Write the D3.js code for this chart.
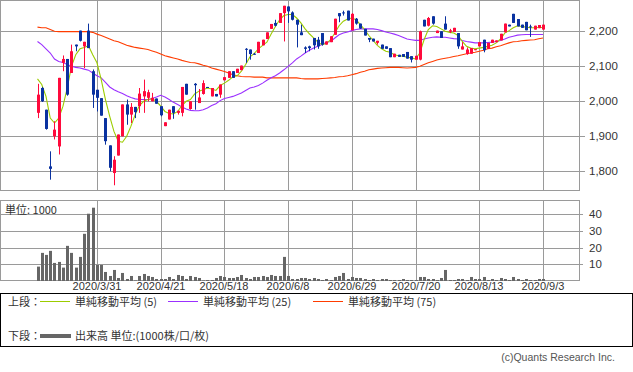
<!DOCTYPE html>
<html>
<head>
<meta charset="utf-8">
<script src="https://cdn.jsdelivr.net/npm/d3@7"></script>
<style>
  body { margin: 0; background: #fff; }
  svg { display: block; }
  text { font-family: "Liberation Sans", Arial, sans-serif; fill: #333; }
  .jp { font-family: "Noto Sans CJK JP", sans-serif; }
</style>
</head>
<body>
<svg width="633" height="372"></svg>
<script>
// daily candles, 2020/3/10 .. 2020/9/3 (index = trading day)
var openP = [1966,2037,1975,1813,1899,1870,2109,2120,2080,2161,2201,2156,2201,2085,2032,2008,1951,1873,1794,1844,
  1899,1990,1961,1983,1985,2013,2009,1999,2007,1985,1928,1947,1985,1966,1966,2049,1977,2049,1994,2020,
  2040,2013,2020,2018,2059,2066,2085,2080,2088,2149,2147,2135,2137,2159,2177,2206,2223,2223,2251,2270,
  2253,2232,2196,2153,2156,2180,2175,2194,2161,2168,2189,2251,2253,2258,2202,2235,2221,2206,2180,2178,
  2166,2161,2156,2151,2125,2132,2134,2140,2128,2118,2118,2232,2215,2242,2194,2199,2221,2198,2197,2194,
  2147,2134,2135,2145,2156,2175,2149,2166,2168,2173,2196,2218,2249,2234,2218,2226,2213,2204,2208,2204];
var highP = [2049,2040,1975,1856,1942,2066,2130,2120,2161,2161,2201,2169,2221,2090,2032,2008,1951,1873,1842,1904,
  1990,2004,1994,1983,2037,2061,2032,2023,2007,1985,1939,1975,1985,1972,2040,2049,1999,2051,2034,2059,
  2040,2037,2020,2047,2068,2085,2085,2092,2101,2151,2147,2137,2169,2175,2196,2220,2232,2251,2272,2270,
  2256,2232,2218,2156,2158,2180,2183,2194,2170,2185,2235,2251,2258,2258,2251,2237,2221,2206,2180,2178,
  2172,2161,2156,2151,2135,2132,2134,2140,2128,2129,2201,2232,2240,2242,2201,2199,2242,2206,2209,2194,
  2168,2153,2151,2148,2168,2175,2166,2175,2173,2192,2221,2218,2249,2234,2218,2226,2218,2215,2217,2218];
var lowP = [1951,1997,1918,1775,1890,1847,2085,2015,2080,2142,2170,2094,2151,1980,1970,1958,1875,1799,1759,1844,
  1899,1932,1937,1951,1966,1966,1999,1999,1992,1956,1928,1947,1949,1961,1956,2018,1975,1975,1994,2018,
  2037,2013,2013,2009,2059,2066,2066,2080,2088,2109,2118,2132,2137,2159,2177,2206,2213,2223,2170,2223,
  2230,2153,2188,2137,2142,2147,2149,2158,2161,2168,2189,2225,2244,2230,2202,2218,2206,2187,2168,2170,
  2161,2149,2149,2125,2125,2126,2126,2121,2110,2118,2116,2213,2213,2218,2194,2180,2204,2194,2197,2149,
  2147,2132,2135,2145,2156,2139,2149,2166,2168,2173,2196,2213,2223,2213,2209,2202,2183,2204,2208,2204];
var closeP = [2018,1999,1920,1806,1918,2066,2120,2018,2142,2156,2172,2169,2151,2018,2009,1958,1885,1809,1832,1904,
  1990,1961,1983,1968,2021,2028,2025,2009,1992,1959,1939,1975,1966,1972,2040,2018,1999,2045,2010,2051,
  2037,2037,2013,2047,2068,2085,2066,2092,2101,2147,2134,2132,2169,2175,2196,2220,2215,2251,2272,2256,
  2232,2218,2188,2149,2151,2159,2156,2161,2170,2185,2235,2242,2251,2230,2249,2221,2207,2187,2175,2170,
  2172,2149,2149,2125,2135,2126,2126,2121,2118,2129,2199,2213,2237,2221,2201,2180,2204,2202,2209,2156,
  2156,2147,2151,2148,2168,2145,2166,2175,2173,2192,2221,2213,2223,2213,2209,2202,2210,2215,2217,2218];

// volume, unit 1000
var volume = [8.6,16.8,15.6,18,10.8,11.4,8,21,16.8,8,14.4,28.2,40.2,43.8,9.6,9.6,5.4,3,6.6,1.8,
  4.8,1.2,3,0.3,3,4.2,3,2.4,1.2,1.2,1.2,2.4,1.2,3.6,3,1.2,3,2.4,1.8,0.3,
  0.6,0.6,1.8,3,2.4,1.8,1.8,2.4,3.6,1.8,1.2,2.4,2.4,3,2.4,3.6,3,3,14.4,3,
  1.2,1.2,1.8,1.8,1.2,1.8,1.2,0.6,1.2,0.6,2.4,3,4.8,1.2,2.4,1.8,1.8,1.2,0.6,1.2,
  0.6,1.2,1.2,0.6,0.6,0.6,1.2,0.6,0.6,0.6,2.4,2.4,1.2,1.2,0.6,1.8,6.6,0.6,0.6,1.2,
  1.2,0.6,2.4,1.2,1.2,2.4,0.6,1.2,0.6,1.8,1.2,0.6,2.4,1.2,0.6,1.2,0.6,0.6,1.2,1.2];

// moving averages as drawn
var ma5 = [2063,2047,2013,1951,1937,1951,1985,2037,2099,2132,2149,2153,2158,2132,2109,2061,2004,1956,1913,1885,
  1882,1899,1928,1961,1987,1999,2004,2006,1999,1985,1970,1964,1963,1970,1987,1999,2004,2020,2028,2032,
  2037,2034,2030,2044,2051,2059,2069,2072,2085,2104,2126,2135,2149,2159,2168,2191,2213,2232,2244,2247,
  2247,2237,2223,2206,2192,2180,2168,2161,2164,2175,2194,2215,2228,2234,2237,2232,2218,2204,2187,2173,
  2159,2149,2142,2139,2132,2129,2128,2125,2123,2120,2137,2175,2204,2215,2213,2206,2199,2196,2194,2187,
  2170,2156,2151,2149,2151,2153,2156,2159,2166,2177,2194,2201,2209,2215,2213,2211,2209,2209,2210,2210];
var ma25 = [2170,2161,2149,2137,2120,2113,2110,2104,2099,2096,2094,2091,2088,2080,2072,2066,2053,2040,2032,2026,
  2021,2015,2010,2006,2004,2004,2004,2007,2011,2016,2011,2004,1996,1990,1983,1977,1973,1972,1972,1975,
  1980,1987,1992,2001,2007,2010,2013,2018,2023,2030,2037,2040,2044,2051,2059,2066,2072,2080,2089,2099,
  2109,2120,2128,2137,2145,2151,2156,2161,2168,2170,2180,2189,2194,2197,2201,2204,2206,2206,2206,2206,
  2204,2201,2197,2194,2191,2187,2182,2177,2175,2173,2173,2177,2180,2182,2183,2182,2182,2180,2178,2177,
  2173,2170,2168,2166,2166,2166,2167,2168,2170,2173,2177,2182,2185,2188,2189,2190,2190,2190,2190,2190];
var ma75 = [2211,2209,2209,2204,2199,2198,2198,2198,2198,2198,2198,2198,2198,2196,2191,2187,2182,2177,2172,2169,
  2164,2159,2156,2153,2151,2149,2147,2143,2139,2134,2129,2126,2123,2120,2116,2113,2110,2109,2106,2102,
  2099,2094,2091,2088,2084,2080,2075,2072,2070,2069,2069,2068,2068,2068,2066,2066,2066,2066,2066,2066,
  2066,2066,2064,2063,2063,2063,2063,2064,2065,2066,2067,2069,2070,2072,2075,2078,2082,2085,2089,2091,
  2093,2094,2095,2096,2096,2096,2095,2094,2095,2096,2099,2104,2109,2113,2117,2120,2122,2124,2127,2129,
  2132,2135,2137,2139,2142,2145,2149,2151,2155,2158,2162,2166,2169,2170,2172,2173,2174,2175,2178,2180];

var tickIndex = [14, 29, 44, 59, 74, 89, 104, 119];
var tickLabels = ["2020/3/31", "2020/4/21", "2020/5/18", "2020/6/8", "2020/6/29", "2020/7/20", "2020/8/13", "2020/9/3"];
var priceTicks = [1800, 1900, 2000, 2100, 2200];
var volumeTicks = [10, 20, 30, 40];

var svg = d3.select("svg"),
    plotRight = 579,
    gridColor = "#9a9a9a",
    upColor = "#ff0a3c",
    downColor = "#0a32a0";

var x = d3.scaleLinear().domain([0, 119]).range([37.5, 543]);
var y = d3.scaleLinear().domain([1745.5, 2288.5]).range([190, 0]);
var yv = d3.scaleLinear().domain([0, 47.8]).range([281, 201]);

function px(i) { return Math.round(x(i)); }

// ---- upper panel frame + grid
var gTop = svg.append("g");
gTop.selectAll(".hg").data(priceTicks).enter().append("line")
    .attr("x1", 0).attr("x2", plotRight + 6)
    .attr("y1", function (d) { return Math.round(y(d)) + 0.5; })
    .attr("y2", function (d) { return Math.round(y(d)) + 0.5; })
    .attr("stroke", gridColor);
gTop.selectAll(".vg").data(tickIndex).enter().append("line")
    .attr("x1", function (d) { return px(d) + 0.5; })
    .attr("x2", function (d) { return px(d) + 0.5; })
    .attr("y1", 0).attr("y2", 190)
    .attr("stroke", gridColor);
gTop.append("rect").attr("x", 0.5).attr("y", 0.5).attr("width", plotRight).attr("height", 190)
    .attr("fill", "none").attr("stroke", gridColor);
gTop.selectAll(".pl").data(priceTicks).enter().append("text")
    .attr("x", 589).attr("y", function (d) { return y(d) + 4; })
    .style("font-size", "11.5px")
    .text(d3.format(","));

// moving average lines
var line = function (arr) {
  return d3.line().x(function (d, i) { return x(i); }).y(function (d) { return y(d); })(arr);
};
[[ma75, "#ff3c00"], [ma25, "#9b30ff"], [ma5, "#9ccc00"]].forEach(function (m) {
  gTop.append("path").attr("d", line(m[0])).attr("fill", "none")
     .attr("stroke", m[1]).attr("stroke-width", 1.1);
});

// candles
var candle = gTop.selectAll(".c").data(closeP).enter().append("g");
candle.append("line")
    .attr("x1", function (d, i) { return px(i) + 0.5; })
    .attr("x2", function (d, i) { return px(i) + 0.5; })
    .attr("y1", function (d, i) { return y(highP[i]); })
    .attr("y2", function (d, i) { return y(lowP[i]); })
    .attr("stroke", function (d, i) { return d >= openP[i] ? upColor : downColor; });
candle.append("rect")
    .attr("x", function (d, i) { return px(i) - 1; })
    .attr("width", 3)
    .attr("y", function (d, i) { return y(Math.max(d, openP[i])); })
    .attr("height", function (d, i) { return Math.max(1, Math.abs(y(d) - y(openP[i]))); })
    .attr("fill", function (d, i) { return d >= openP[i] ? upColor : downColor; });

// ---- volume panel
var gBot = svg.append("g");
gBot.selectAll(".hg").data(volumeTicks).enter().append("line")
    .attr("x1", 0).attr("x2", plotRight + 4)
    .attr("y1", function (d) { return Math.round(yv(d)) + 0.5; })
    .attr("y2", function (d) { return Math.round(yv(d)) + 0.5; })
    .attr("stroke", gridColor);
gBot.selectAll(".vg").data(tickIndex).enter().append("line")
    .attr("x1", function (d) { return px(d) + 0.5; })
    .attr("x2", function (d) { return px(d) + 0.5; })
    .attr("y1", 201).attr("y2", 281)
    .attr("stroke", gridColor);
gBot.append("rect").attr("x", 0.5).attr("y", 200.5).attr("width", plotRight).attr("height", 80)
    .attr("fill", "none").attr("stroke", gridColor);
gBot.selectAll(".vb").data(volume).enter().append("rect")
    .attr("x", function (d, i) { return px(i) - 1; })
    .attr("width", 3)
    .attr("y", function (d) { return yv(d); })
    .attr("height", function (d) { return yv(0) - yv(d); })
    .attr("fill", "#666");
gBot.selectAll(".vl").data(volumeTicks).enter().append("text")
    .attr("x", 589).attr("y", function (d) { return yv(d) + 4; })
    .style("font-size", "11.5px")
    .text(function (d) { return d; });
gBot.append("text").attr("class", "jp").attr("x", 5).attr("y", 214)
    .style("font-size", "11px").text("単位: 1000");

// date labels
svg.selectAll(".dl").data(tickIndex).enter().append("text")
    .attr("x", function (d) { return px(d); }).attr("y", 289.5)
    .attr("text-anchor", "middle")
    .style("font-size", "11px")
    .text(function (d, i) { return tickLabels[i]; });

// ---- legend
var leg = svg.append("g");
leg.append("rect").attr("x", 0.5).attr("y", 293.5).attr("width", 632).attr("height", 53)
    .attr("fill", "none").attr("stroke", "#000");
leg.append("text").attr("class", "jp").attr("x", 8).attr("y", 306).style("font-size", "11px").text("上段：");
leg.append("text").attr("class", "jp").attr("x", 8).attr("y", 340).style("font-size", "11px").text("下段：");
var legItems = [["#9ccc00", 40, "単純移動平均 (5)"], ["#9b30ff", 168, "単純移動平均 (25)"], ["#ff3c00", 313, "単純移動平均 (75)"]];
legItems.forEach(function (l) {
  leg.append("line").attr("x1", l[1]).attr("x2", l[1] + 30).attr("y1", 301.5).attr("y2", 301.5)
     .attr("stroke", l[0]);
  leg.append("text").attr("class", "jp").attr("x", l[1] + 35).attr("y", 306)
     .style("font-size", "11px").text(l[2]);
});
leg.append("line").attr("x1", 40).attr("x2", 71).attr("y1", 336).attr("y2", 336)
    .attr("stroke", "#666").attr("stroke-width", 4);
leg.append("text").attr("class", "jp").attr("x", 75).attr("y", 340)
    .style("font-size", "11px").text("出来高 単位:(1000株/口/枚)");

svg.append("text").attr("x", 615).attr("y", 361).attr("text-anchor", "end")
    .style("font-size", "10.5px").style("fill", "#555").text("(c)Quants Research Inc.");
</script>
</body>
</html>
